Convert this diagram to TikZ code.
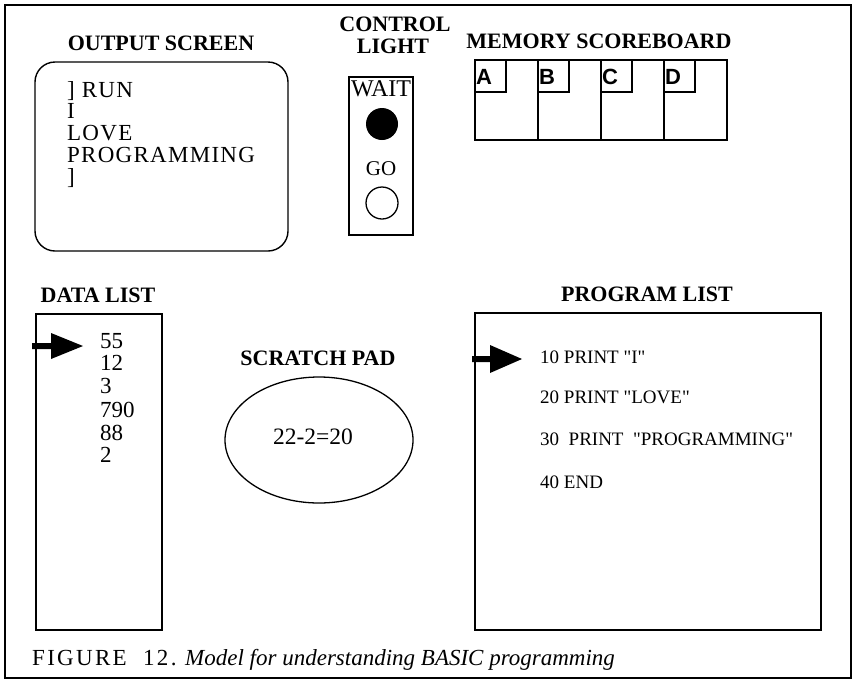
\documentclass[tikz,border=0pt]{standalone}
\usepackage{fontspec}
\usetikzlibrary{shapes.geometric}
\setmainfont{Liberation Serif}
\newfontfamily\lsans{Liberation Sans}
\newfontfamily\plainserif{Liberation Serif}
\newfontfamily\trackserif[LetterSpace=5.5]{Liberation Serif}
\newfontfamily\capserif[LetterSpace=10]{Liberation Serif}
\begin{document}
\begin{tikzpicture}[x=1pt,y=-1pt,
  box/.style={draw,line width=1.4pt},
  title/.style={font=\fontsize{22}{24}\selectfont\bfseries,anchor=base,inner sep=0pt},
  body/.style={font=\fontsize{23}{25}\selectfont,anchor=base west,inner sep=0pt},
  prog/.style={font=\fontsize{19}{21}\plainserif,anchor=base west,inner sep=0pt},
  screentxt/.style={font=\fontsize{23}{25}\trackserif,anchor=base west,inner sep=0pt},
  letter/.style={font=\fontsize{22}{24}\lsans\bfseries,anchor=base west,inner sep=0pt},
  pointer/.style={fill=black,draw=none}]
\useasboundingbox (0,0) rectangle (856,681);
% outer frame
\draw[line width=2pt] (5,5) rectangle (851,678);

% OUTPUT SCREEN
\node[title] (tscreen) at (161,50) {OUTPUT SCREEN};
\draw[box,rounded corners=20pt] (35,62) rectangle (288,251);
\node[screentxt] (s1) at (67,97) {] RUN};
\node[screentxt] (s2) at (67,118) {I};
\node[screentxt] (s3) at (67,140) {LOVE};
\node[screentxt] (s4) at (67,162) {PROGRAMMING};
\node[screentxt] (s5) at (67,184) {]};

% CONTROL LIGHT
\node[title] (tctl1) at (395,31) {CONTROL};
\node[title] (tctl2) at (393,53) {LIGHT};
\draw[box] (349,77) rectangle (413,235);
\node[font=\fontsize{24}{26}\selectfont,anchor=base,inner sep=0pt] (wait) at (381,96) {WAIT};
\node[fill=black,circle,minimum size=32pt,inner sep=0pt] (waitlamp) at (382,124) {};
\node[font=\fontsize{21}{23}\selectfont,anchor=base,inner sep=0pt] (go) at (381,175) {GO};
\node[draw,line width=1.3pt,circle,minimum size=32pt,inner sep=0pt] (golamp) at (382,203) {};

% MEMORY SCOREBOARD
\node[title] (tmem) at (599,48) {MEMORY SCOREBOARD};
\draw[box] (475,60) rectangle (727,140);
\foreach \xx/\lab in {475/A,538/B,601/C,664/D}{
  \draw[box] (\xx,60) -- (\xx,140);
  \draw[line width=1.2pt] (\xx,92) -| (\xx+31,60);
  \node[letter] (mem\lab) at (\xx+1,84) {\lab};
}

% DATA LIST
\node[title] (tdata) at (98,302) {DATA LIST};
\draw[box] (36,314) rectangle (162,630);
\foreach \v/\yy [count=\i] in {55/348,12/370,3/393,790/417,88/440,2/462}{
  \node[body] (d\i) at (100,\yy) {\v};
}
\coordinate (dptr) at (32,346);
\fill[pointer] (dptr) ++(0,-3) -- ++(19,0) -- ++(0,-10) -- (83,346) -- (51,359) -- (51,349) -- (32,349) -- cycle;

% SCRATCH PAD
\node[title] (tscr) at (318,365) {SCRATCH PAD};
\node[draw,line width=1.3pt,ellipse,minimum width=188pt,minimum height=126pt] (pad) at (319,440) {};
\node[font=\fontsize{23.5}{25}\selectfont,anchor=base,inner sep=0pt] (padtxt) at (313,444) {22-2=20};

% PROGRAM LIST
\node[title] (tprog) at (647,301) {PROGRAM LIST};
\draw[box] (475,313) rectangle (821,630);
\node[prog] (p1) at (540,363) {10 PRINT "I"};
\node[prog] (p2) at (540,403) {20 PRINT "LOVE"};
\node[prog] (p3) at (540,445) {30\ \ PRINT\ \ "PROGRAMMING"};
\node[prog] (p4) at (540,488) {40 END};
\coordinate (pptr) at (472,359);
\fill[pointer] (pptr) ++(0,-3) -- ++(18,0) -- ++(0,-11) -- (522,359) -- (490,373) -- (490,362) -- (472,362) -- cycle;

% caption
\node[anchor=base west,inner sep=0pt,font=\fontsize{23}{25}\capserif] (capfig) at (32,665) {FIGURE};
\node[anchor=base west,inner sep=0pt,font=\fontsize{23}{25}\capserif] (capnum) at (143,665) {12.};
\node[anchor=base west,inner sep=0pt,font=\fontsize{23}{25}\selectfont\itshape] (captxt) at (185,665) {Model for understanding BASIC programming};
\end{tikzpicture}
\end{document}
